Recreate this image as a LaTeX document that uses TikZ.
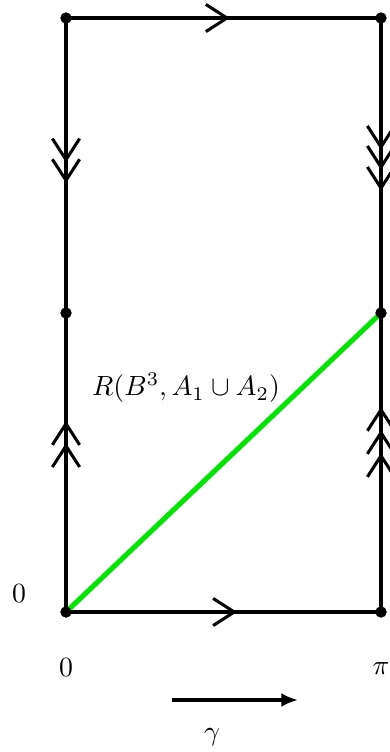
\documentclass[tikz,border=0pt]{standalone}
\usetikzlibrary{arrows.meta,decorations.markings}
\begin{document}
\begin{tikzpicture}[x=0.36pt,y=-0.36pt,line width=1.1pt,
  cb/.tip={Straight Barb[length=7.6pt,width=9.8pt]},
  dot/.style={circle,fill=black,inner sep=0pt,minimum size=4pt},
  lbl/.style={inner sep=0pt},
  edge/.style={draw=black,line width=1.1pt,postaction=decorate},
  green line/.style={draw={rgb,255:red,0;green,230;blue,0},line width=1.8pt}]
\useasboundingbox (0,0) rectangle (389,752);
% vertices
\node[dot] (TL) at (66,18) {};
\node[dot] (TR) at (381,18) {};
\node[dot] (ML) at (66,313) {};
\node[dot] (MR) at (381,313) {};
\node[dot] (BL) at (66,612) {};
\node[dot] (BR) at (381,612) {};
% edges with chevrons
\path[edge,decoration={markings,mark=at position 0.52 with {\arrow{cb}}}] (TL.center) -- (TR.center);
\path[edge,decoration={markings,mark=at position 0.543 with {\arrow{cb}}}] (BL.center) -- (BR.center);
\path[edge,decoration={markings,
   mark=at position 0.49 with {\arrow{cb}},
   mark=at position 0.56 with {\arrow{cb}}}] (TL.center) -- (ML.center);
\path[edge,decoration={markings,
   mark=at position 0.565 with {\arrow{cb}},
   mark=at position 0.639 with {\arrow{cb}}}] (BL.center) -- (ML.center);
\path[edge,decoration={markings,
   mark=at position 0.447 with {\arrow{cb}},
   mark=at position 0.515 with {\arrow{cb}},
   mark=at position 0.586 with {\arrow{cb}}}] (TR.center) -- (MR.center);
\path[edge,decoration={markings,
   mark=at position 0.532 with {\arrow{cb}},
   mark=at position 0.609 with {\arrow{cb}},
   mark=at position 0.686 with {\arrow{cb}}}] (BR.center) -- (MR.center);
% green diagonal
\path[green line] (BL.center) -- (MR.center);
% redraw dots on top
\foreach \n in {TL,TR,ML,MR,BL,BR} \fill (\n.center) circle (2pt);
% labels
\node[lbl] (lab) at (186,388) {$R(B^3,A_1\cup A_2)$};
\node[lbl] (l0) at (19,594) {$0$};
\node[lbl] (b0) at (66,668) {$0$};
\node[lbl] (bpi) at (381,669) {$\pi$};
\coordinate (ga) at (172,700);
\coordinate (gb) at (298,700);
\draw[-{Latex[length=6pt,width=5pt]}] (ga) -- (gb);
\node[lbl] (gl) at (212,737) {$\gamma$};
\end{tikzpicture}
\end{document}
